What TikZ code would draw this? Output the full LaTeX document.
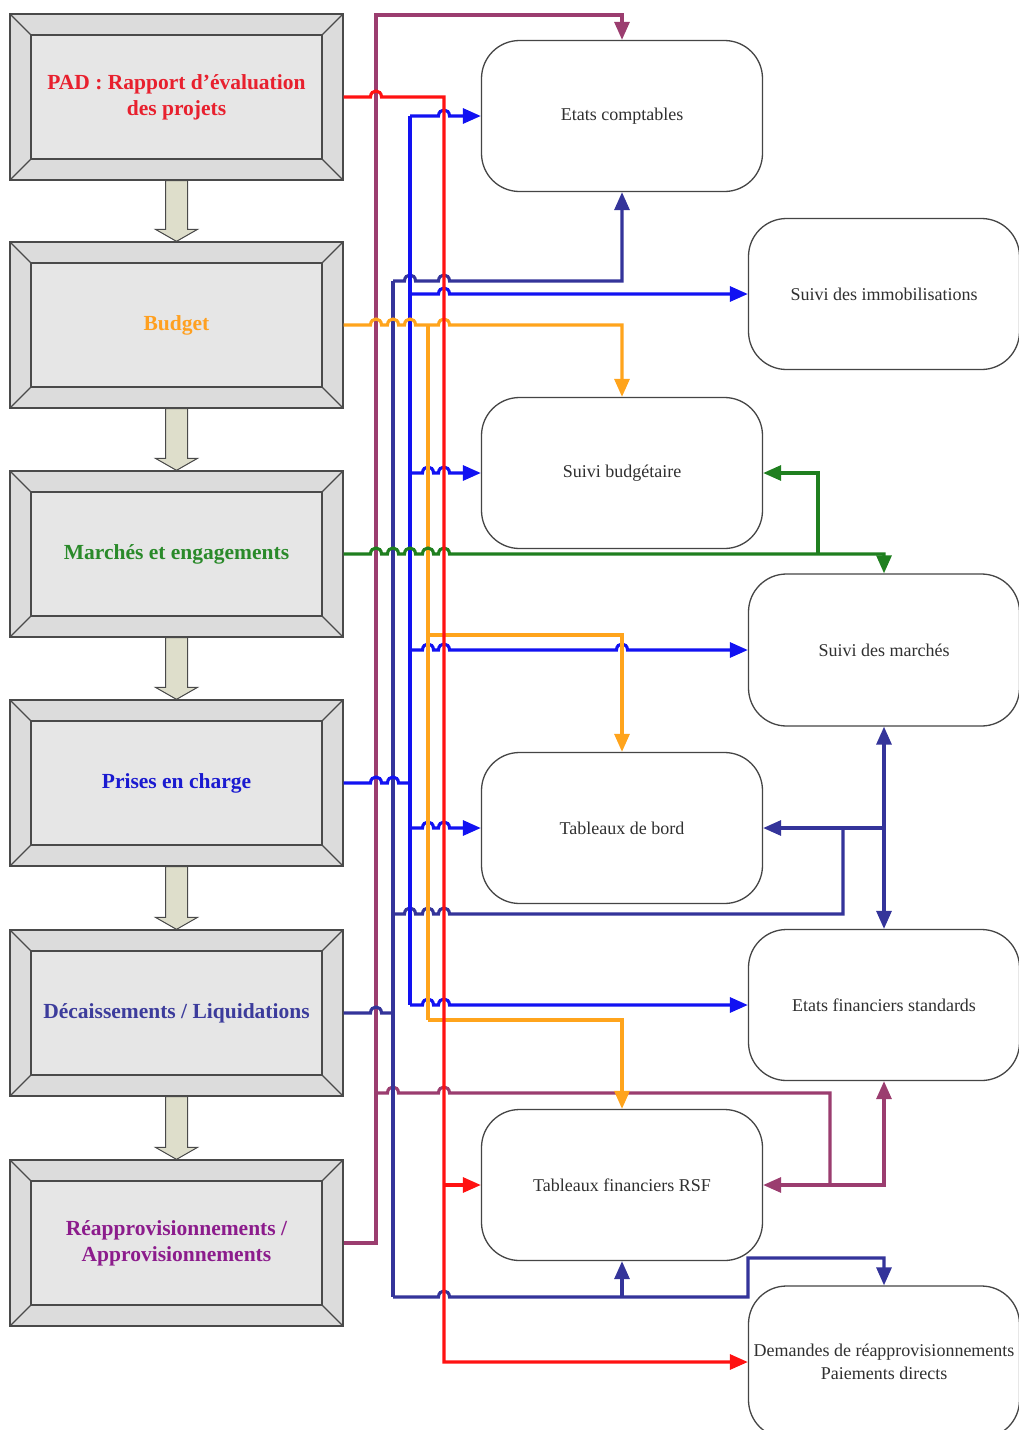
\documentclass[tikz,border=0pt]{standalone}
\usepackage{fontspec}
\setmainfont{Liberation Serif}
\usetikzlibrary{arrows.meta,calc}

% line colours
\definecolor{cRed}{HTML}{FF1212}
\definecolor{cOrange}{HTML}{FFA41C}
\definecolor{cGreen}{HTML}{1F7F1F}
\definecolor{cBlue}{HTML}{1212F2}
\definecolor{cNavy}{HTML}{34349A}
\definecolor{cPurple}{HTML}{9B3D6F}
% text colours
\definecolor{tRed}{HTML}{E8202E}
\definecolor{tOrange}{HTML}{FFA020}
\definecolor{tGreen}{HTML}{2A8A2A}
\definecolor{tBlue}{HTML}{1A1AD0}
\definecolor{tNavy}{HTML}{3C3C9C}
\definecolor{tPurple}{HTML}{8C1C8C}
% box colours
\definecolor{frameLine}{HTML}{4A4A4A}
\definecolor{bandFill}{HTML}{DCDCDC}
\definecolor{innerFill}{HTML}{E6E6E6}
\definecolor{shaftFill}{HTML}{DEDECB}
\definecolor{roundLine}{HTML}{454545}
\definecolor{roundText}{HTML}{303030}

% a line hop over a vertical line at x=#1 on a horizontal line at y=#2
\newcommand\hp[2]{-- (#1-5.5,#2) .. controls +(0,-8) and +(0,-8) .. (#1+5.5,#2)}

\begin{document}
\begin{tikzpicture}[x=1pt,y=-1pt,
  bevel/.style={draw=frameLine,line width=1.3pt},
  lbox/.style={draw=frameLine,line width=1.3pt,fill=bandFill,
    minimum width=333pt,minimum height=166pt,inner sep=0pt,align=center,
    font=\bfseries\fontsize{21.5}{26}\selectfont,
    path picture={
      \coordinate (pnw) at (path picture bounding box.north west);
      \coordinate (pse) at (path picture bounding box.south east);
      \coordinate (pne) at (path picture bounding box.north east);
      \coordinate (psw) at (path picture bounding box.south west);
      \draw[bevel,fill=innerFill] ($(pnw)+(21,21)$) rectangle ($(pse)+(-21,-21)$);
      \draw[bevel] (pnw) -- ++(21,21);
      \draw[bevel] (pne) -- ++(-21,21);
      \draw[bevel] (psw) -- ++(21,-21);
      \draw[bevel] (pse) -- ++(-21,-21);
    }},
  rbox/.style={draw=roundLine,line width=1.3pt,rounded corners=38pt,fill=white,
    minimum height=151pt,inner sep=0pt,align=center,text=roundText,
    font=\fontsize{18}{23}\selectfont},
  midbox/.style={rbox,minimum width=281pt},
  sidebox/.style={rbox,minimum width=271pt},
  barrow/.style={draw=frameLine,line width=1pt,fill=shaftFill},
  conn/.style={line width=3.1pt},
  tip/.style={-{Triangle[length=18pt,width=15pt]}}
]
\useasboundingbox (0,0) rectangle (1018,1430);
\fill[white] (0,0) rectangle (1018,1430);

% process stages on the left
\node[lbox,text=tRed]    (pad) at (176.5,97)   {PAD : Rapport d'évaluation\\des projets};
\node[lbox,text=tOrange] (bud) at (176.5,325)  {Budget};
\node[lbox,text=tGreen]  (mar) at (176.5,554)  {Marchés et engagements};
\node[lbox,text=tBlue]   (pri) at (176.5,783)  {Prises en charge};
\node[lbox,text=tNavy]   (dec) at (176.5,1013) {Décaissements / Liquidations};
\node[lbox,text=tPurple] (rea) at (176.5,1243) {Réapprovisionnements /\\Approvisionnements};

% block arrows between stages
\foreach \a/\b in {pad/bud,bud/mar,mar/pri,pri/dec,dec/rea}{
  \draw[barrow] ($(\a.south)+(-11,0)$) -- ($(\b.north)+(-11,-12)$) -- ($(\b.north)+(-21,-12)$)
    -- (\b.north) -- ($(\b.north)+(21,-12)$) -- ($(\b.north)+(11,-12)$)
    -- ($(\a.south)+(11,0)$) -- cycle;
}

% outputs
\node[midbox]  (etc) at (622,116)  {Etats comptables};
\node[sidebox] (imm) at (884,294)  {Suivi des immobilisations};
\node[midbox]  (sb)  at (622,473)  {Suivi budgétaire};
\node[sidebox,minimum height=152pt] (sm) at (884,650) {Suivi des marchés};
\node[midbox]  (tdb) at (622,828)  {Tableaux de bord};
\node[sidebox] (efs) at (884,1005) {Etats financiers standards};
\node[midbox]  (tfr) at (622,1185) {Tableaux financiers RSF};
\node[sidebox,minimum height=152pt] (dem) at (884,1362) {Demandes de réapprovisionnements\\Paiements directs};

% Réapprovisionnements / Approvisionnements
\draw[conn,cPurple,tip] (rea.east) -- (376,1243) -- (376,15) -- (622,15) -- (etc.north);
\draw[conn,cPurple] (376,1093) \hp{393}{1093} \hp{444}{1093} -- (830,1093) -- (830,1185);
\draw[conn,cPurple,tip] (830,1185) -- (tfr.east);
\draw[conn,cPurple,tip] (830,1185) -- (884,1185) -- (efs.south);

% Décaissements / Liquidations
\draw[conn,cNavy] (dec.east) \hp{376}{1013} -- (393,1013);
\draw[conn,cNavy] (393,281) -- (393,1297);
\draw[conn,cNavy,tip] (393,281) \hp{410}{281} \hp{444}{281} -- (622,281) -- (etc.south);
\draw[conn,cNavy] (393,914) \hp{410}{914} \hp{428}{914} \hp{444}{914} -- (843,914) -- (843,828);
\draw[conn,cNavy,tip] (884,828) -- (tdb.east);
\draw[conn,cNavy,tip] (884,828) -- (sm.south);
\draw[conn,cNavy,tip] (884,828) -- (efs.north);
\draw[conn,cNavy,tip] (393,1297) \hp{444}{1297} -- (748,1297) -- (748,1258) -- (884,1258) -- (dem.north);
\draw[conn,cNavy,tip] (622,1297) -- (tfr.south);

% Prises en charge
\draw[conn,cBlue] (pri.east) \hp{376}{783} \hp{393}{783} -- (410,783);
\draw[conn,cBlue] (410,116) -- (410,1005);
\draw[conn,cBlue,tip] (410,116) \hp{444}{116} -- (etc.west);
\draw[conn,cBlue,tip] (410,294) \hp{444}{294} -- (imm.west);
\draw[conn,cBlue,tip] (410,473) \hp{428}{473} \hp{444}{473} -- (sb.west);
\draw[conn,cBlue,tip] (410,650) \hp{428}{650} \hp{444}{650} \hp{622}{650} -- (sm.west);
\draw[conn,cBlue,tip] (410,828) \hp{428}{828} \hp{444}{828} -- (tdb.west);
\draw[conn,cBlue,tip] (410,1005) \hp{428}{1005} \hp{444}{1005} -- (efs.west);

% Budget
\draw[conn,cOrange,tip] (bud.east) \hp{376}{325} \hp{393}{325} \hp{410}{325} -- (428,325)
  \hp{444}{325} -- (622,325) -- (sb.north);
\draw[conn,cOrange] (428,325) -- (428,1020);
\draw[conn,cOrange,tip] (428,635) -- (622,635) -- (tdb.north);
\draw[conn,cOrange,tip] (428,1020) -- (622,1020) -- (tfr.north);

% Marchés et engagements
\draw[conn,cGreen,tip] (mar.east) \hp{376}{554} \hp{393}{554} \hp{410}{554} \hp{428}{554}
  \hp{444}{554} -- (884,554) -- (sm.north);
\draw[conn,cGreen,tip] (818,554) -- (818,473) -- (sb.east);

% PAD : Rapport d'évaluation des projets
\draw[conn,cRed,tip] (pad.east) \hp{376}{97} -- (444,97) -- (444,1362) -- (dem.west);
\draw[conn,cRed,tip] (444,1185) -- (tfr.west);
\end{tikzpicture}
\end{document}
